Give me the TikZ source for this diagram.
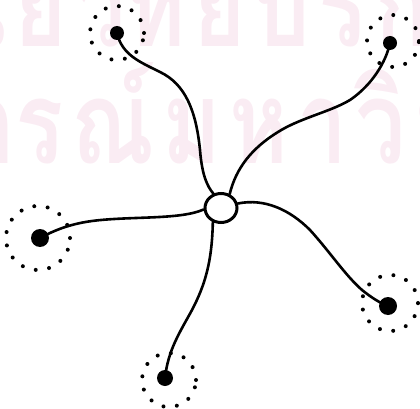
\documentclass[tikz,border=0pt]{standalone}
\usepackage{fontspec}
\newfontfamily\thaifont[Script=Thai, LetterSpace=9]{Loma}
\usetikzlibrary{shapes.geometric}
\definecolor{wm}{RGB}{250,236,243}
\begin{document}
\begin{tikzpicture}[x=1pt,y=-1pt,
  wmtext/.style={font=\thaifont\bfseries\fontsize{115}{115}\selectfont, text=wm, inner sep=0, xscale=0.78},
  hubnode/.style={ellipse, draw, line width=3pt, minimum width=32pt, minimum height=29pt, inner sep=0},
  dotnode/.style={circle, fill=black, inner sep=0},
  halo/.style={circle, draw, line width=4pt, dash pattern=on 0pt off 13.5pt, line cap=round, inner sep=0},
  branch/.style={line width=2.6pt, line cap=round}]
\useasboundingbox (0,0) rectangle (420,409);
\begin{scope}
  \clip (0,0) rectangle (420,409);
  \node[wmtext, anchor=base east] (w1a) at (126,47) {ศูนย์วิ};
  \node[wmtext, anchor=base west] (w1b) at (126,47) {ทยบริการ};
  \node[wmtext, anchor=base east] (w2a) at (15,163) {จุฬาลงก};
  \node[wmtext, anchor=base west] (w2b) at (15,163) {รณ์มหาวิทยาลัย};
\end{scope}
% halos
\node[halo, minimum size=54pt] (h1) at (117,33) {};
\node[halo, minimum size=52pt] (h2) at (393,41) {};
\node[halo, minimum size=64pt] (h3) at (38,238) {};
\node[halo, minimum size=56pt] (h4) at (390,303) {};
\node[halo, minimum size=54pt] (h5) at (169,380) {};
% dots
\node[dotnode, minimum size=14pt] (d1) at (117,33) {};
\node[dotnode, minimum size=14pt] (d2) at (390,43) {};
\node[dotnode, minimum size=18pt] (d3) at (40,238) {};
\node[dotnode, minimum size=18pt] (d4) at (388,306) {};
\node[dotnode, minimum size=16pt] (d5) at (165,378) {};
% hub
\node[hubnode, fill=white] (hub) at (221,208) {};
% branches
\draw[branch] (d1.center) .. controls (122,55) and (140,62) .. (160,72)
  .. controls (185,84) and (196,110) .. (200,150)
  .. controls (202,175) and (207,186) .. (hub.118);
\draw[branch] (d2.center) .. controls (386,62) and (372,85) .. (350,100)
  .. controls (330,112) and (300,118) .. (278,132)
  .. controls (252,148) and (236,168) .. (hub.58);
\draw[branch] (d3.center) .. controls (55,230) and (70,224) .. (92,221)
  .. controls (130,216) and (180,220) .. (hub.185);
\draw[branch] (hub.15) .. controls (265,198) and (290,210) .. (310,230)
  .. controls (330,252) and (345,275) .. (362,290)
  .. controls (372,298) and (380,303) .. (d4.center);
\draw[branch] (hub.240) .. controls (212,262) and (205,285) .. (192,310)
  .. controls (180,332) and (168,350) .. (d5.center);
\end{tikzpicture}
\end{document}
